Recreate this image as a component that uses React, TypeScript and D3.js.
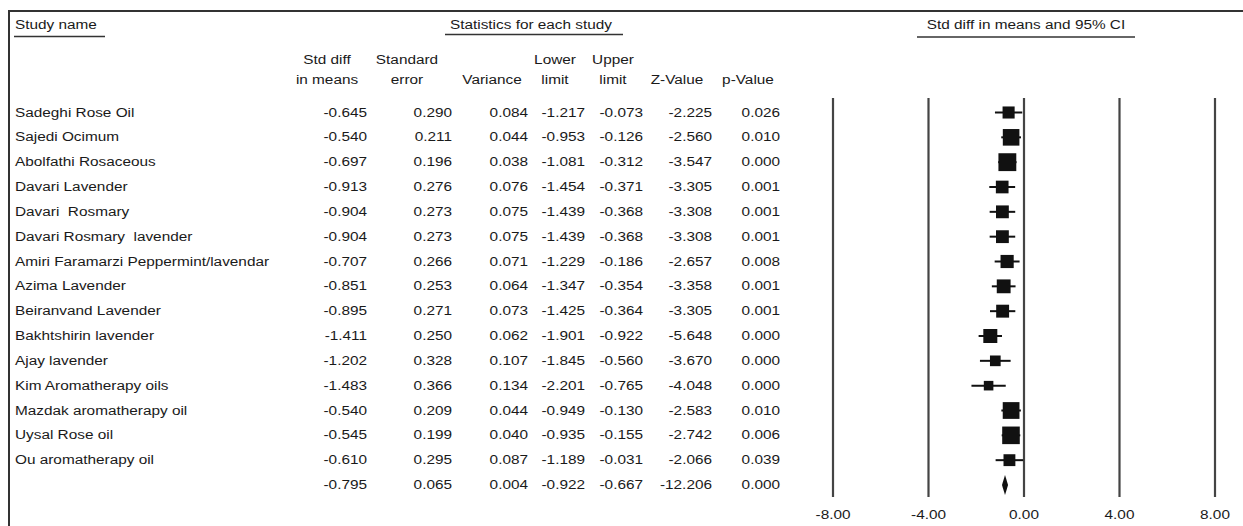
import React from "react";
import * as d3 from "d3";

// Study-level statistics (standardised mean difference, fixed effect)
const studies = [
  "Sadeghi Rose Oil",
  "Sajedi Ocimum",
  "Abolfathi Rosaceous",
  "Davari Lavender",
  "Davari  Rosmary",
  "Davari Rosmary  lavender",
  "Amiri Faramarzi Peppermint/lavendar",
  "Azima Lavender",
  "Beiranvand Lavender",
  "Bakhtshirin lavender",
  "Ajay lavender",
  "Kim Aromatherapy oils",
  "Mazdak aromatherapy oil",
  "Uysal Rose oil",
  "Ou aromatherapy oil",
];
const stdDiff = [-0.645, -0.54, -0.697, -0.913, -0.904, -0.904, -0.707, -0.851, -0.895, -1.411, -1.202, -1.483, -0.54, -0.545, -0.61];
const stdErr = [0.29, 0.211, 0.196, 0.276, 0.273, 0.273, 0.266, 0.253, 0.271, 0.25, 0.328, 0.366, 0.209, 0.199, 0.295];
const variance = [0.084, 0.044, 0.038, 0.076, 0.075, 0.075, 0.071, 0.064, 0.073, 0.062, 0.107, 0.134, 0.044, 0.04, 0.087];
const lowerLimit = [-1.217, -0.953, -1.081, -1.454, -1.439, -1.439, -1.229, -1.347, -1.425, -1.901, -1.845, -2.201, -0.949, -0.935, -1.189];
const upperLimit = [-0.073, -0.126, -0.312, -0.371, -0.368, -0.368, -0.186, -0.354, -0.364, -0.922, -0.56, -0.765, -0.13, -0.155, -0.031];
const zValue = [-2.225, -2.56, -3.547, -3.305, -3.308, -3.308, -2.657, -3.358, -3.305, -5.648, -3.67, -4.048, -2.583, -2.742, -2.066];
const pValue = [0.026, 0.01, 0.0, 0.001, 0.001, 0.001, 0.008, 0.001, 0.001, 0.0, 0.0, 0.0, 0.01, 0.006, 0.039];

// Pooled estimate
const pooled = [-0.795, 0.065, 0.004, -0.922, -0.667, -12.206, 0.0];

const columnHeads = [
  ["Std diff", "in means"],
  ["Standard", "error"],
  ["", "Variance"],
  ["Lower", "limit"],
  ["Upper", "limit"],
  ["", "Z-Value"],
  ["", "p-Value"],
];
const ticks = [-8, -4, 0, 4, 8];

const W = 1243;
const H = 526;
const SX = 1.28; // horizontal stretch of the lettering
const FONT = "'Liberation Sans', Arial, sans-serif";
const INK = "#1a1a1a";

const colRight = [367, 452, 528, 585, 643, 712, 780];
const colHeadCenter = [327, 407, 492, 555, 613, 677, 748];

const T = ({ x, y, anchor = "start", children }: { x: number; y: number; anchor?: string; children: React.ReactNode }) => (
  <text
    transform={`translate(${x},${y}) scale(${SX},1)`}
    textAnchor={anchor as any}
    fontFamily={FONT}
    fontSize={12}
    fill={INK}
    style={{ whiteSpace: "pre" }}
  >
    {children}
  </text>
);

const fmt = (v: number) => v.toFixed(3);

export default function App() {
  const x = d3.scaleLinear().domain([-8, 8]).range([833, 1215]);
  const rowKeys = [...studies.map((_, i) => `s${i}`), "pooled"];
  const y = d3.scalePoint<string>().domain(rowKeys).range([112.5, 485]);
  const plotTop = 98;
  const plotBottom = 497;

  const rows = studies.map((name, i) => ({
    name,
    key: `s${i}`,
    vals: [stdDiff[i], stdErr[i], variance[i], lowerLimit[i], upperLimit[i], zValue[i], pValue[i]],
  }));

  return (
    <svg
      width={W}
      height={H}
      viewBox={`0 0 ${W} ${H}`}
      style={{ position: "absolute", left: 0, top: 0, background: "#fff" }}
    >
      <rect x={0} y={0} width={W} height={H} fill="#fff" />
      {/* frame */}
      <path d={`M9,${H} V11 H${W}`} fill="none" stroke="#333" strokeWidth={2} />

      {/* section titles */}
      <T x={15} y={29}>Study name</T>
      <line x1={14} x2={105} y1={36.5} y2={36.5} stroke="#333" strokeWidth={1.6} />
      <T x={531} y={29} anchor="middle">Statistics for each study</T>
      <line x1={445} x2={623} y1={34.5} y2={34.5} stroke="#333" strokeWidth={1.6} />
      <T x={1026} y={29} anchor="middle">Std diff in means and 95% CI</T>
      <line x1={917} x2={1135} y1={37} y2={37} stroke="#333" strokeWidth={1.6} />

      {/* column headers */}
      {columnHeads.map((h, j) => (
        <g key={j}>
          {h[0] && <T x={colHeadCenter[j]} y={64} anchor="middle">{h[0]}</T>}
          <T x={colHeadCenter[j]} y={84} anchor="middle">{h[1]}</T>
        </g>
      ))}

      {/* table rows */}
      {rows.map((r) => (
        <g key={r.key}>
          <T x={15} y={y(r.key)! + 4}>{r.name}</T>
          {r.vals.map((v, j) => (
            <T key={j} x={colRight[j]} y={y(r.key)! + 4} anchor="end">{fmt(v)}</T>
          ))}
        </g>
      ))}
      {pooled.map((v, j) => (
        <T key={j} x={colRight[j]} y={y("pooled")! + 4} anchor="end">{fmt(v)}</T>
      ))}

      {/* reference lines at each tick */}
      {ticks.map((t) => (
        <line key={t} x1={x(t)} x2={x(t)} y1={plotTop} y2={plotBottom} stroke="#444" strokeWidth={2.2} />
      ))}

      {/* study estimates: CI line + weight-sized square */}
      {rows.map((r, i) => {
        const cy = y(r.key)!;
        const side = 3.5 * Math.sqrt(1 / (stdErr[i] * stdErr[i]));
        return (
          <g key={r.key}>
            <line x1={x(lowerLimit[i])} x2={x(upperLimit[i])} y1={cy} y2={cy} stroke="#111" strokeWidth={2} />
            <rect x={x(stdDiff[i]) - side / 2} y={cy - side / 2} width={side} height={side} fill="#111" />
          </g>
        );
      })}

      {/* pooled diamond */}
      {(() => {
        const cy = y("pooled")!;
        const pts = [
          [x(pooled[3]), cy],
          [x(pooled[0]), cy - 10],
          [x(pooled[4]), cy],
          [x(pooled[0]), cy + 10],
        ];
        return <polygon points={pts.map((p) => p.join(",")).join(" ")} fill="#111" />;
      })()}

      {/* axis labels */}
      {ticks.map((t) => (
        <T key={t} x={x(t)} y={519} anchor="middle">{t.toFixed(2)}</T>
      ))}
    </svg>
  );
}
